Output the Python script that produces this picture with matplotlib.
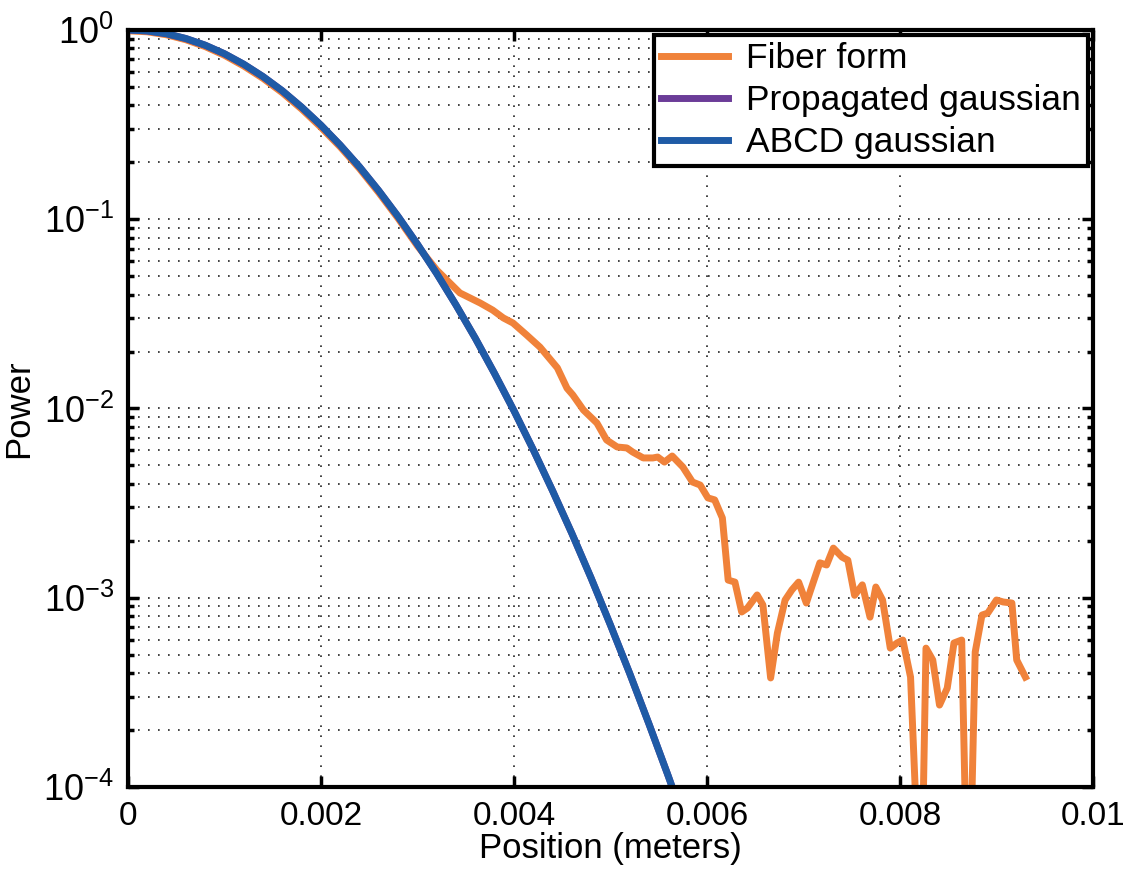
import numpy as np
import matplotlib
matplotlib.use("Agg")
import matplotlib.pyplot as plt
from matplotlib.ticker import LogLocator, NullFormatter, NullLocator

plt.rcParams['font.family'] = ['Liberation Sans', 'DejaVu Sans']
plt.rcParams['mathtext.fontset'] = 'custom'
plt.rcParams['mathtext.rm'] = 'Liberation Sans'

# position (m) and power
x_gauss = [0.0, 0.0002, 0.0004, 0.0006, 0.0008, 0.0010, 0.0012, 0.0014, 0.0016,
           0.0018, 0.0020, 0.0022, 0.0024, 0.0026, 0.0028, 0.0030, 0.0032, 0.0034,
           0.0036, 0.0038, 0.0040, 0.0042, 0.0044, 0.0046, 0.0048, 0.0050, 0.0052,
           0.0054, 0.0056, 0.0058]
p_abcd = [1.0, 0.9885, 0.955, 0.901, 0.831, 0.7487, 0.659, 0.567, 0.477,
          0.391, 0.314, 0.2463, 0.189, 0.1413, 0.1033, 0.0738, 0.0516, 0.0352,
          0.0235, 0.01528, 0.00974, 0.00606, 0.00368, 0.00219, 0.00127, 0.000718, 0.000398,
          0.000215, 0.000114, 0.000059]
p_prop = list(p_abcd)  # hidden under the ABCD curve in the reference

x_fiber = [0.0, 0.0002, 0.0004, 0.0006, 0.0008, 0.0010, 0.0012, 0.0014, 0.0016,
           0.0018, 0.0020, 0.0022, 0.0024, 0.0026, 0.0028, 0.0030,
           0.00320, 0.00344, 0.00365, 0.00378, 0.00389, 0.00399, 0.00413, 0.00427,
           0.00445, 0.00455, 0.00461, 0.00472, 0.00486, 0.00496, 0.00507, 0.00517,
           0.00523, 0.00534, 0.00544, 0.00549, 0.00556, 0.00564, 0.00575, 0.00585,
           0.00593, 0.00601, 0.00608, 0.00616, 0.00622, 0.00629, 0.00636, 0.00642,
           0.00652, 0.00658, 0.00666, 0.00673, 0.00681, 0.00688, 0.00695, 0.00703,
           0.00710, 0.00717, 0.00724, 0.00731, 0.00740, 0.00746, 0.00753, 0.00761,
           0.00769, 0.00775, 0.00782, 0.00790, 0.00797, 0.00803, 0.00811, 0.00819,
           0.00823, 0.00827, 0.00834, 0.00841, 0.00849, 0.00856, 0.00864, 0.00869,
           0.00873, 0.00878, 0.00885, 0.00891, 0.00900, 0.00907, 0.00916, 0.00921,
           0.00930]
p_fiber = [0.99, 0.978, 0.943, 0.888, 0.817, 0.735, 0.645, 0.555, 0.466,
           0.382, 0.306, 0.241, 0.185, 0.138, 0.101, 0.0723,
           0.0539, 0.0408, 0.0361, 0.0331, 0.0301, 0.0283, 0.0245, 0.0211,
           0.0164, 0.0128, 0.0118, 0.00982, 0.00838, 0.00682, 0.00626, 0.00619,
           0.00589, 0.00548, 0.00548, 0.00554, 0.00521, 0.00561, 0.00491, 0.00409,
           0.00394, 0.00337, 0.00329, 0.00264, 0.00124, 0.00121, 0.000841, 0.000883,
           0.001035, 0.000916, 0.000377, 0.000651, 0.000973, 0.00110, 0.00121, 0.000938,
           0.00120, 0.00153, 0.00149, 0.00183, 0.00164, 0.00158, 0.00103, 0.00117,
           0.00079, 0.00114, 0.000973, 0.000542, 0.000577, 0.000598, 0.000381, 0.00004,
           0.00004, 0.000542, 0.000469, 0.000271, 0.000333, 0.000577, 0.000598, 0.00004,
           0.00004, 0.000517, 0.00081, 0.00083, 0.000973, 0.00095, 0.000938, 0.000469,
           0.000381]

x_ticks = [0, 0.002, 0.004, 0.006, 0.008, 0.01]
x_ticklabels = ['0', '0.002', '0.004', '0.006', '0.008', '0.01']

fig = plt.figure(figsize=(11.32, 8.71), dpi=100)
ax = fig.add_axes([0.113, 0.0964, 0.8525, 0.8692])

ax.semilogy(x_fiber, p_fiber, color='#F0823A', lw=5, label='Fiber form')
ax.semilogy(x_gauss, p_prop, color='#6B3C98', lw=5, label='Propagated gaussian')
ax.semilogy(x_gauss, p_abcd, color='#1F5BA6', lw=5, label='ABCD gaussian')

ax.set_xlim(0, 0.01)
ax.set_ylim(1e-4, 1)
ax.set_xticks(x_ticks)
ax.set_xticklabels(x_ticklabels)
ax.xaxis.set_minor_locator(NullLocator())
ax.yaxis.set_major_locator(LogLocator(base=10, numticks=10))
ax.yaxis.set_minor_locator(LogLocator(base=10, subs=np.arange(2, 10), numticks=10))
ax.yaxis.set_minor_formatter(NullFormatter())

grid_style = dict(ls=(0, (1, 5)), color='#222222', lw=1.2)
ax.grid(True, which='major', axis='both', **grid_style)
ax.grid(True, which='minor', axis='y', **grid_style)

ax.tick_params(which='both', direction='in', top=True, right=True, pad=10)
ax.tick_params(axis='x', labelsize=24)
ax.tick_params(axis='y', labelsize=26)
ax.tick_params(which='major', length=8, width=2.5)
ax.tick_params(which='minor', length=4, width=2.5)
for s in ax.spines.values():
    s.set_linewidth(3)

ax.set_xlabel('Position (meters)', fontsize=25, labelpad=0)
ax.set_ylabel('Power', fontsize=25, labelpad=6)

leg = ax.legend(loc='upper right', fontsize=25.5, frameon=True, fancybox=False,
                framealpha=1, edgecolor='black', handlelength=1.9,
                labelspacing=0.25, borderpad=0.2, handletextpad=0.5,
                borderaxespad=0.15)
leg.get_frame().set_linewidth(3)

fig.savefig('out.png', dpi=100)
